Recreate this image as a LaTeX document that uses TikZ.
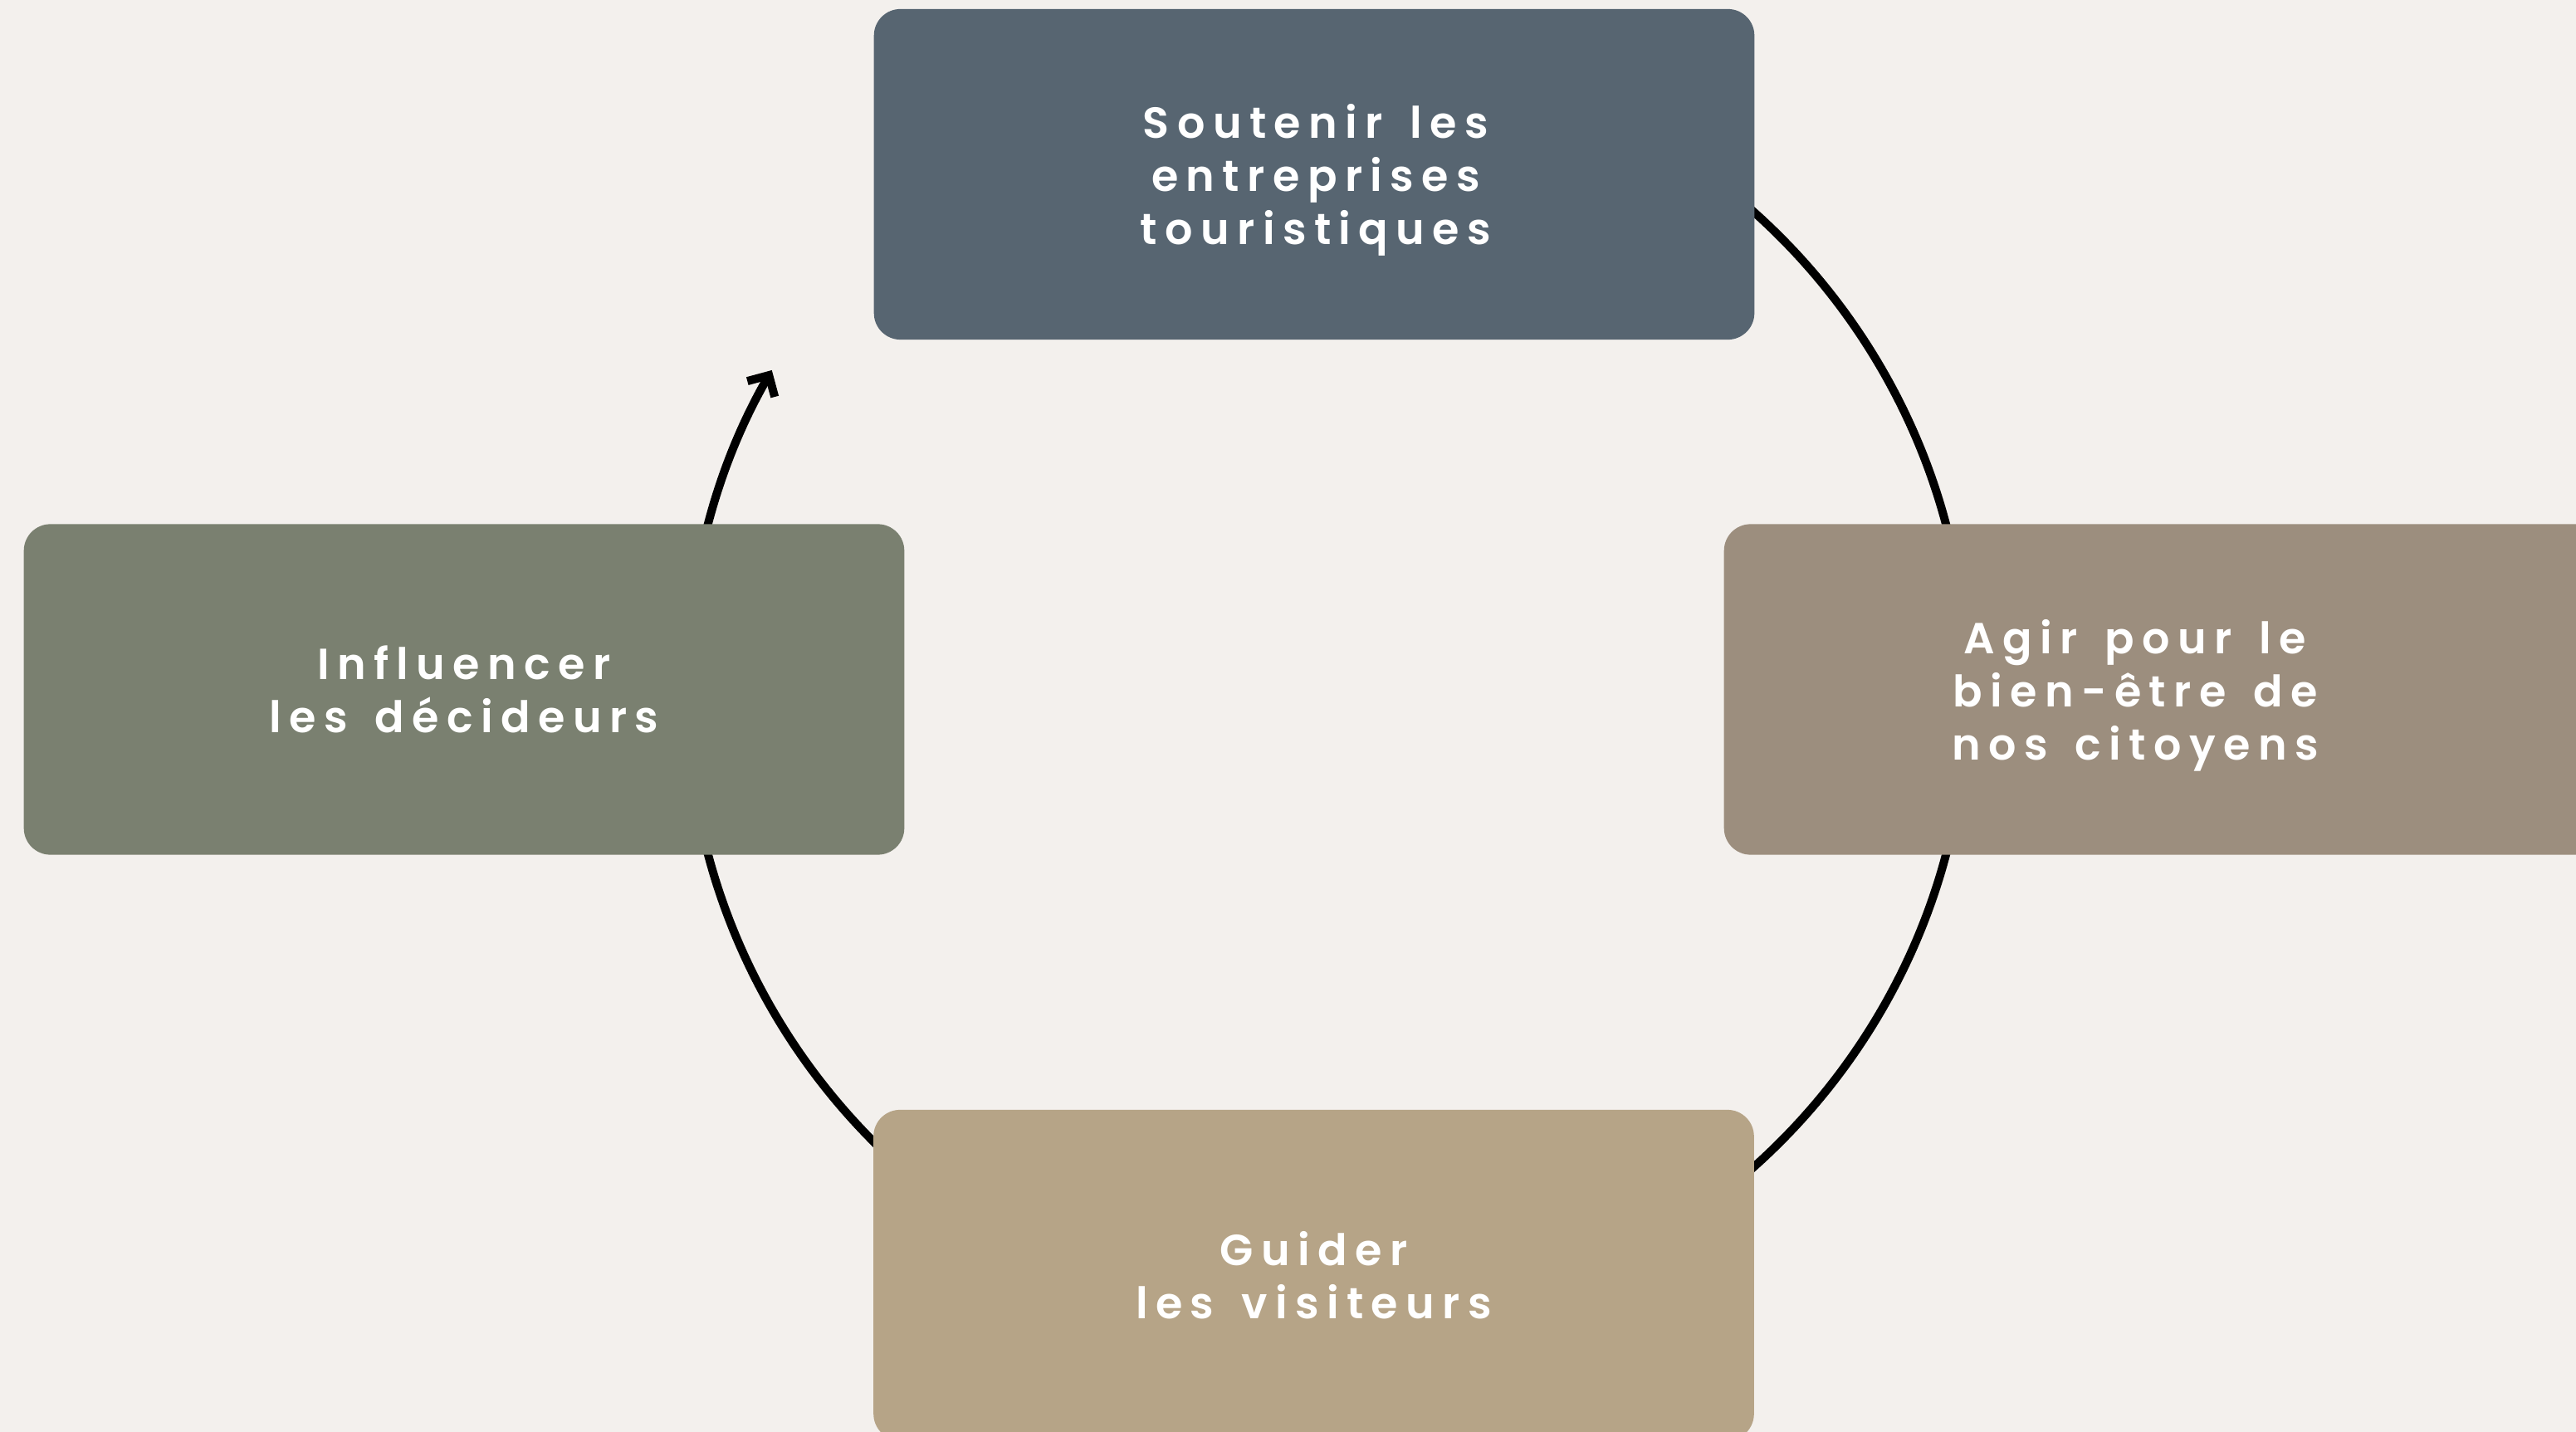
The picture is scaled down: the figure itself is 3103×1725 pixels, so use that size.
\documentclass[tikz,border=0pt]{standalone}
\usepackage{fontspec}
\newfontfamily\boxfont{Poppins SemiBold}[LetterSpace=18, WordSpace=1.5]
\usetikzlibrary{arrows.meta,backgrounds}
\definecolor{bgc}{HTML}{F3F0ED}
\definecolor{slate}{HTML}{576571}
\definecolor{taupe}{HTML}{9C8E7E}
\definecolor{sage}{HTML}{7A8070}
\definecolor{sand}{HTML}{B6A487}
\begin{document}
\begin{tikzpicture}[x=0.01cm,y=0.01cm,
  txt/.style={text=white, align=center, inner sep=0pt, font=\boxfont\fontsize{14.9}{18.2}\selectfont},
  card/.style={txt, rounded corners=0.32cm, minimum width=10.6cm, minimum height=3.98cm},
  cycleline/.style={line width=0.1cm, draw=black, -{Straight Barb[sharp,length=0.19cm,width=0.38cm]}}]
\useasboundingbox (0,0) rectangle (3103,-1725);
\node[card, fill=slate] (top) at (1583,-210) {};
\node[txt] (toptext) at (1585,-217) {Soutenir les\\entreprises\\touristiques};
\node[card, fill=taupe] (right) at (2607,-830.5) {};
\node[txt] (righttext) at (2572,-838) {Agir pour le\\bien-être de\\nos citoyens};
\node[card, fill=sage] (left) at (559,-830.5) {Influencer\\les décideurs};
\node[card, fill=sand] (bottom) at (1582.5,-1536) {Guider\\les visiteurs};
\begin{scope}[on background layer]
\fill[bgc] (0,0) rectangle (3103,-1725);
\coordinate (c) at (1598.5,-830.5);
\draw[cycleline] ([yshift=7.71cm]c) arc[start angle=90,end angle=-209.9,radius=7.71cm];
\end{scope}
\end{tikzpicture}
\end{document}
